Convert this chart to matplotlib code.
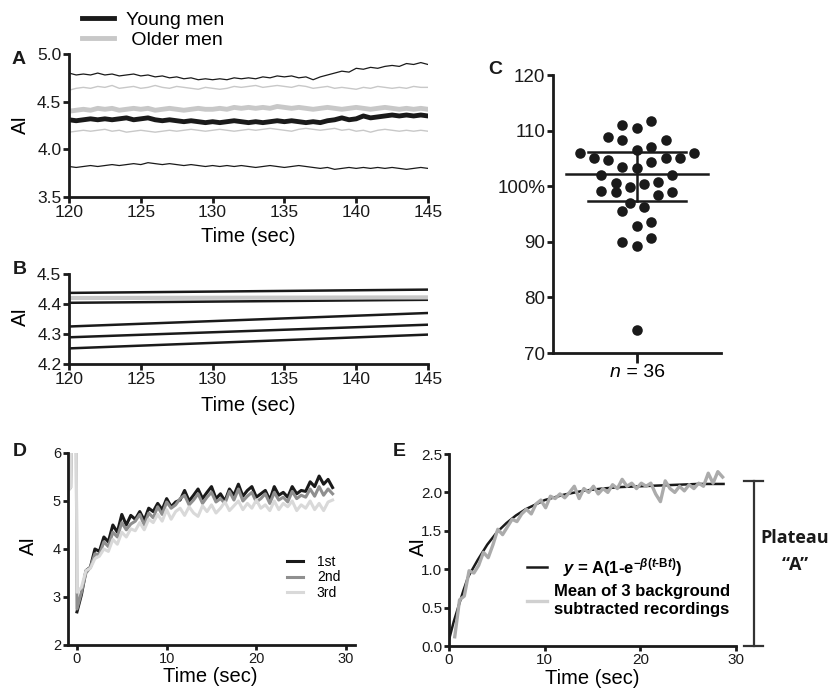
import numpy as np
import matplotlib
matplotlib.use("Agg")
import matplotlib.pyplot as plt
from matplotlib import transforms

plt.rcParams['font.family'] = ['Liberation Sans', 'DejaVu Sans']
plt.rcParams['mathtext.fontset'] = 'custom'
plt.rcParams['mathtext.rm'] = 'Liberation Sans:bold'
plt.rcParams['mathtext.it'] = 'Liberation Sans:italic:bold'
plt.rcParams['mathtext.bf'] = 'Liberation Sans:bold'
plt.rcParams['mathtext.sf'] = 'Liberation Sans:bold'

# ---------------- data ----------------
# Panel A: time 120..145 s every 0.5 s
a_time = np.arange(120, 145.01, 0.5)
a_young_hi = [4.80, 4.78, 4.79, 4.78, 4.80, 4.78, 4.79, 4.77, 4.78, 4.79, 4.77, 4.78, 4.76, 4.77, 4.75, 4.76,
              4.74, 4.75, 4.73, 4.74, 4.73, 4.74, 4.73, 4.75, 4.74, 4.75, 4.74, 4.76, 4.75, 4.77, 4.76, 4.77,
              4.75, 4.76, 4.73, 4.76, 4.78, 4.80, 4.82, 4.81, 4.85, 4.84, 4.86, 4.85, 4.87, 4.88, 4.87, 4.90,
              4.89, 4.91, 4.89]
a_older_hi = [4.62, 4.64, 4.65, 4.64, 4.66, 4.65, 4.67, 4.64, 4.65, 4.66, 4.64, 4.65, 4.67, 4.65, 4.64, 4.66,
              4.65, 4.64, 4.63, 4.65, 4.64, 4.63, 4.64, 4.66, 4.65, 4.66, 4.67, 4.65, 4.66, 4.67, 4.66, 4.65,
              4.67, 4.66, 4.64, 4.65, 4.66, 4.64, 4.65, 4.64, 4.63, 4.65, 4.64, 4.66, 4.65, 4.64, 4.65, 4.64,
              4.66, 4.65, 4.65]
a_older_mean = [4.40, 4.41, 4.42, 4.41, 4.43, 4.42, 4.43, 4.41, 4.42, 4.43, 4.42, 4.43, 4.41, 4.42, 4.43, 4.42,
                4.41, 4.42, 4.43, 4.42, 4.42, 4.43, 4.42, 4.44, 4.43, 4.44, 4.43, 4.44, 4.43, 4.45, 4.44, 4.43,
                4.44, 4.43, 4.42, 4.43, 4.44, 4.43, 4.42, 4.43, 4.44, 4.43, 4.42, 4.43, 4.44, 4.43, 4.42, 4.43,
                4.42, 4.43, 4.42]
a_young_mean = [4.31, 4.30, 4.31, 4.32, 4.31, 4.32, 4.31, 4.32, 4.33, 4.31, 4.32, 4.33, 4.31, 4.30, 4.31, 4.30,
                4.29, 4.30, 4.29, 4.28, 4.29, 4.28, 4.29, 4.30, 4.29, 4.28, 4.29, 4.28, 4.29, 4.30, 4.29, 4.30,
                4.29, 4.28, 4.29, 4.28, 4.30, 4.31, 4.33, 4.31, 4.32, 4.35, 4.33, 4.34, 4.35, 4.36, 4.35, 4.36,
                4.35, 4.36, 4.35]
a_older_lo = [4.18, 4.19, 4.20, 4.19, 4.20, 4.21, 4.19, 4.20, 4.18, 4.19, 4.20, 4.19, 4.18, 4.19, 4.20, 4.19,
              4.20, 4.21, 4.20, 4.19, 4.20, 4.21, 4.20, 4.19, 4.20, 4.21, 4.20, 4.21, 4.22, 4.21, 4.20, 4.19,
              4.21, 4.22, 4.21, 4.20, 4.21, 4.22, 4.20, 4.21, 4.19, 4.20, 4.18, 4.20, 4.21, 4.20, 4.19, 4.20,
              4.19, 4.20, 4.19]
a_young_lo = [3.82, 3.81, 3.82, 3.83, 3.82, 3.83, 3.84, 3.83, 3.84, 3.85, 3.84, 3.86, 3.85, 3.84, 3.85, 3.84,
              3.83, 3.84, 3.83, 3.82, 3.83, 3.82, 3.83, 3.82, 3.83, 3.82, 3.81, 3.82, 3.83, 3.82, 3.81, 3.82,
              3.83, 3.82, 3.81, 3.80, 3.81, 3.79, 3.80, 3.81, 3.80, 3.81, 3.80, 3.81, 3.80, 3.81, 3.80, 3.79,
              3.80, 3.81, 3.80]

# Panel B: regression lines (start at 120 s, end at 145 s)
b_time = [120, 145]
b_black_lines = [[4.437, 4.448], [4.404, 4.414], [4.325, 4.370], [4.289, 4.331], [4.252, 4.298]]
b_gray_line = [4.420, 4.422]

# Panel C: individual values
c_values = [111.8, 111.0, 110.5, 108.9, 108.3, 108.3, 107.1, 106.5, 105.9, 105.9, 105.0, 104.7,
            104.4, 105.0, 105.0, 103.4, 103.2, 102.0, 102.0, 100.5, 99.9, 100.4, 100.7, 99.2,
            98.9, 98.4, 98.9, 96.9, 96.3, 95.6, 93.5, 92.8, 90.7, 89.9, 89.3, 74.2]
c_offsets = [0.163, -0.175, 0.0, -0.345, -0.175, 0.34, 0.163, 0.0, -0.68, 0.68, -0.516, -0.345,
             0.163, 0.34, 0.51, -0.175, 0.0, -0.43, 0.42, -0.25, -0.087, 0.083, 0.254, -0.43,
             -0.25, 0.254, 0.42, -0.087, 0.083, -0.175, 0.163, 0.0, 0.163, -0.175, 0.0, 0.0]
c_median = 102.2
c_q1 = 97.4
c_q3 = 106.1
c_yticks = [70, 80, 90, 100, 110, 120]
c_yticklabels = ['70', '80', '90', '100%', '110', '120']

# Panel D: three recordings
d_time = [-1.0, -0.7, -0.55, -0.1] + list(np.arange(0, 28.51, 0.5))
d_first = [np.nan, np.nan, np.nan, np.nan,
           2.69, 3.05, 3.55, 3.62, 4.00, 3.95, 4.25, 4.15, 4.50, 4.35,
           4.72, 4.50, 4.70, 4.62, 4.78, 4.60, 4.85, 4.78, 4.95, 4.82,
           5.05, 4.88, 4.98, 5.02, 5.22, 5.00, 5.12, 5.25, 5.05, 5.18,
           5.30, 5.05, 5.15, 5.00, 5.25, 5.12, 5.35, 5.10, 5.22, 5.30,
           5.08, 5.15, 5.22, 5.02, 5.30, 5.12, 5.18, 5.08, 5.30, 5.15,
           5.22, 5.20, 5.40, 5.30, 5.52, 5.35, 5.45, 5.28]
d_second = [5.22, 5.28, 7.0, 7.0,
            2.75, 3.10, 3.50, 3.62, 3.90, 3.88, 4.15, 4.05, 4.35, 4.25,
            4.55, 4.40, 4.52, 4.58, 4.72, 4.50, 4.75, 4.65, 4.88, 4.72,
            4.98, 4.85, 4.92, 5.05, 5.12, 4.92, 5.02, 5.15, 4.95, 5.08,
            5.18, 4.98, 5.05, 4.95, 5.20, 5.02, 5.25, 5.00, 5.10, 5.18,
            4.98, 5.05, 5.15, 4.95, 5.18, 5.02, 5.08, 4.98, 5.20, 5.05,
            5.12, 5.08, 5.25, 5.10, 5.30, 5.12, 5.25, 5.15]
d_third = [5.22, 5.28, 7.0, 7.0,
           3.10, 3.20, 3.55, 3.60, 3.80, 3.85, 4.00, 3.95, 4.20, 4.10,
           4.35, 4.25, 4.42, 4.38, 4.55, 4.40, 4.62, 4.55, 4.72, 4.58,
           4.82, 4.62, 4.78, 4.85, 4.70, 4.88, 4.75, 4.68, 4.90, 4.78,
           4.92, 4.75, 4.85, 4.98, 4.80, 4.90, 5.00, 4.82, 4.95, 4.85,
           5.02, 4.85, 4.92, 4.80, 5.00, 4.82, 4.95, 4.88, 5.00, 4.80,
           4.92, 4.85, 5.00, 4.82, 4.95, 4.80, 4.98, 5.02]
d_labels = ['1st', '2nd', '3rd']

# Panel E: mean background-subtracted trace and fitted curve
e_time = np.arange(0.6, 28.61, 0.5)
e_mean = [0.12, 0.60, 0.65, 0.98, 0.95, 1.05, 1.22, 1.15, 1.32, 1.52, 1.45, 1.55, 1.65, 1.62, 1.72,
          1.78, 1.72, 1.85, 1.90, 1.80, 1.95, 1.92, 1.98, 1.93, 2.00, 2.08, 1.92, 2.05, 2.00, 2.08,
          1.98, 2.05, 2.00, 2.10, 2.05, 2.17, 2.08, 2.12, 2.05, 2.12, 2.08, 2.12, 1.98, 1.88, 2.15,
          2.05, 2.00, 2.08, 2.02, 2.10, 2.05, 2.12, 2.08, 2.25, 2.12, 2.27, 2.20]
e_fit_time = [0, 0.5, 1, 1.5, 2, 3, 4, 5, 6, 7, 8, 10, 12, 14, 16, 18, 20, 22, 24, 26, 28.7]
e_fit = [0.08, 0.32, 0.52, 0.72, 0.90, 1.12, 1.32, 1.48, 1.60, 1.70, 1.78, 1.90, 1.97, 2.02,
         2.05, 2.07, 2.08, 2.09, 2.10, 2.11, 2.11]
e_plateau = 2.15

# ---------------- figure ----------------
W, H = 831, 693
fig = plt.figure(figsize=(W / 100, H / 100), dpi=100)


def px_axes(l, t, r, b):
    return fig.add_axes([l / W, (H - b) / H, (r - l) / W, (b - t) / H])


def style(ax, lw=2.0, tl=4, fs=12):
    for s in ['top', 'right']:
        ax.spines[s].set_visible(False)
    for s in ['left', 'bottom']:
        ax.spines[s].set_linewidth(lw)
        ax.spines[s].set_color('#1a1a1a')
    ax.tick_params(width=lw, length=tl, direction='out', pad=1.5, labelsize=fs, colors='#1a1a1a')


BLACK = '#1a1a1a'
LGRAY = '#c8c8c8'

# ----- Panel A -----
axA = px_axes(69, 54, 428, 197)
axA.plot(a_time, a_young_hi, color=BLACK, lw=0.9)
axA.plot(a_time, a_young_lo, color=BLACK, lw=0.9)
axA.plot(a_time, a_older_hi, color=LGRAY, lw=1.0)
axA.plot(a_time, a_older_lo, color=LGRAY, lw=1.0)
lo, = axA.plot(a_time, a_older_mean, color=LGRAY, lw=3.5)
ly, = axA.plot(a_time, a_young_mean, color=BLACK, lw=3.5)
axA.set_xlim(120, 145)
axA.set_ylim(3.5, 5.0)
axA.set_xticks([120, 125, 130, 135, 140, 145])
axA.set_yticks([3.5, 4.0, 4.5, 5.0])
axA.set_yticklabels(['3.5', '4.0', '4.5', '5.0'])
style(axA, fs=12.5)
axA.set_xlabel('Time (sec)', fontsize=14.5)
axA.set_ylabel('AI', fontsize=14.5)
axA.xaxis.set_label_coords(0.5, -0.21)
axA.yaxis.set_label_coords(-0.11, 0.51)
leg = axA.legend([ly, lo], ['Young men', ' Older men'], loc='upper left',
                 bbox_to_anchor=(0.035, 1.30), frameon=False, fontsize=14,
                 handlelength=1.65, handletextpad=0.65, labelspacing=0.12,
                 borderpad=0, borderaxespad=0)
for h in leg.get_lines():
    h.set_linewidth(3.5)

# ----- Panel B -----
axB = px_axes(69, 274, 428, 364)
for vals in b_black_lines:
    axB.plot(b_time, vals, color=BLACK, lw=1.8)
axB.plot(b_time, b_gray_line, color=LGRAY, lw=3.0)
axB.set_xlim(120, 145)
axB.set_ylim(4.2, 4.5)
axB.set_xticks([120, 125, 130, 135, 140, 145])
axB.set_yticks([4.2, 4.3, 4.4, 4.5])
axB.set_yticklabels(['4.2', '4.3', '4.4', '4.5'])
style(axB, fs=12.5)
axB.set_xlabel('Time (sec)', fontsize=14.5)
axB.set_ylabel('AI', fontsize=14.5)
axB.xaxis.set_label_coords(0.5, -0.36)
axB.yaxis.set_label_coords(-0.11, 0.53)

# ----- Panel C -----
axC = px_axes(553, 75, 721, 353)
axC.plot(c_offsets, c_values, 'o', color=BLACK, ms=7.6, mew=0)
axC.plot([-0.85, 0.85], [c_median, c_median], color=BLACK, lw=1.8)
axC.plot([-0.58, 0.58], [c_q3, c_q3], color=BLACK, lw=1.8)
axC.plot([-0.58, 0.58], [c_q1, c_q1], color=BLACK, lw=1.8)
axC.plot([0, 0], [c_q1, c_q3], color=BLACK, lw=1.8)
axC.set_xlim(-1, 1)
axC.set_ylim(70, 120)
axC.set_yticks(c_yticks)
axC.set_yticklabels(c_yticklabels)
axC.set_xticks([0])
axC.set_xticklabels([''])
style(axC, fs=13.5)
axC.tick_params(axis='x', length=7)
trC = transforms.blended_transform_factory(axC.transData, axC.transAxes)
axC.text(-0.19, -0.04, 'n', transform=trC, ha='right', va='top', fontsize=14, style='italic')
axC.text(-0.19, -0.04, ' = 36', transform=trC, ha='left', va='top', fontsize=14)

# ----- Panel D -----
axD = px_axes(68, 453, 355, 645)
d_colors = [BLACK, '#8f8f8f', '#d9d9d9']
for vals, col, lab in zip([d_first, d_second, d_third], d_colors, d_labels):
    axD.plot(d_time, vals, color=col, lw=2.2, label=lab)
axD.set_xlim(-1, 31)
axD.set_ylim(2, 6)
axD.set_xticks([0, 10, 20, 30])
axD.set_yticks([2, 3, 4, 5, 6])
style(axD, fs=10.5, tl=3.5)
axD.set_xlabel('Time (sec)', fontsize=14.5)
axD.set_ylabel('AI', fontsize=14.5)
axD.xaxis.set_label_coords(0.495, -0.115)
axD.yaxis.set_label_coords(-0.105, 0.52)
axD.legend(loc='upper left', bbox_to_anchor=(0.763, 0.47), frameon=False, fontsize=10,
           handlelength=1.15, handletextpad=1.0, labelspacing=0.12, borderpad=0, borderaxespad=0)

# ----- Panel E -----
axE = px_axes(449, 454, 736, 646)
lf, = axE.plot(e_fit_time, e_fit, color=BLACK, lw=1.8)
lm, = axE.plot(e_time, e_mean, color='#ababab', lw=2.4)
axE.set_xlim(0, 30)
axE.set_ylim(0, 2.5)
axE.set_xticks([0, 10, 20, 30])
axE.set_yticks([0, 0.5, 1.0, 1.5, 2.0, 2.5])
axE.set_yticklabels(['0.0', '0.5', '1.0', '1.5', '2.0', '2.5'])
style(axE, fs=11, tl=3.5)
axE.set_xlabel('Time (sec)', fontsize=14.5)
axE.set_ylabel('AI', fontsize=14.5)
axE.xaxis.set_label_coords(0.5, -0.12)
axE.yaxis.set_label_coords(-0.073, 0.52)
hm = matplotlib.lines.Line2D([], [], color='#d0d0d0', lw=2.4)
legE = axE.legend([lf, hm],
                  [r'  $y$ = A(1-e$^{-\beta(t\text{-}\mathrm{B}t)}$)',
                   'Mean of 3 background\nsubtracted recordings'],
                  loc='upper left', bbox_to_anchor=(0.272, 0.47), frameon=False,
                  prop={'family': 'Liberation Sans', 'weight': 'bold', 'size': 12},
                  handlelength=1.2, handletextpad=0.4, labelspacing=0.35,
                  borderpad=0, borderaxespad=0)

# plateau bracket
trE = transforms.blended_transform_factory(axE.transAxes, axE.transData)
bx, c0, c1 = 1.063, 1.028, 1.095
axE.plot([bx, bx], [0, e_plateau], transform=trE, color='#333333', lw=1.6, clip_on=False)
axE.plot([c0, c1], [0, 0], transform=trE, color='#333333', lw=1.6, clip_on=False)
axE.plot([c0, c1], [e_plateau, e_plateau], transform=trE, color='#333333', lw=1.6, clip_on=False)
axE.text(1.206, 1.41, 'Plateau', transform=trE, ha='center', va='center',
         fontsize=13, fontweight='bold', family='Open Sans', color='#1a1a1a')
axE.text(1.206, 1.05, '\u201cA\u201d', transform=trE, ha='center', va='center',
         fontsize=13, fontweight='bold', family='Open Sans', color='#1a1a1a')

# panel letters
for lab, x, y in [('A', 19, 60), ('B', 20, 270), ('C', 495, 70), ('D', 20, 452), ('E', 399, 452)]:
    fig.text(x / W, 1 - y / H, lab, ha='center', va='center', fontsize=14, fontweight='bold',
             color='#1a1a1a')

fig.savefig('out.png', dpi=100)
